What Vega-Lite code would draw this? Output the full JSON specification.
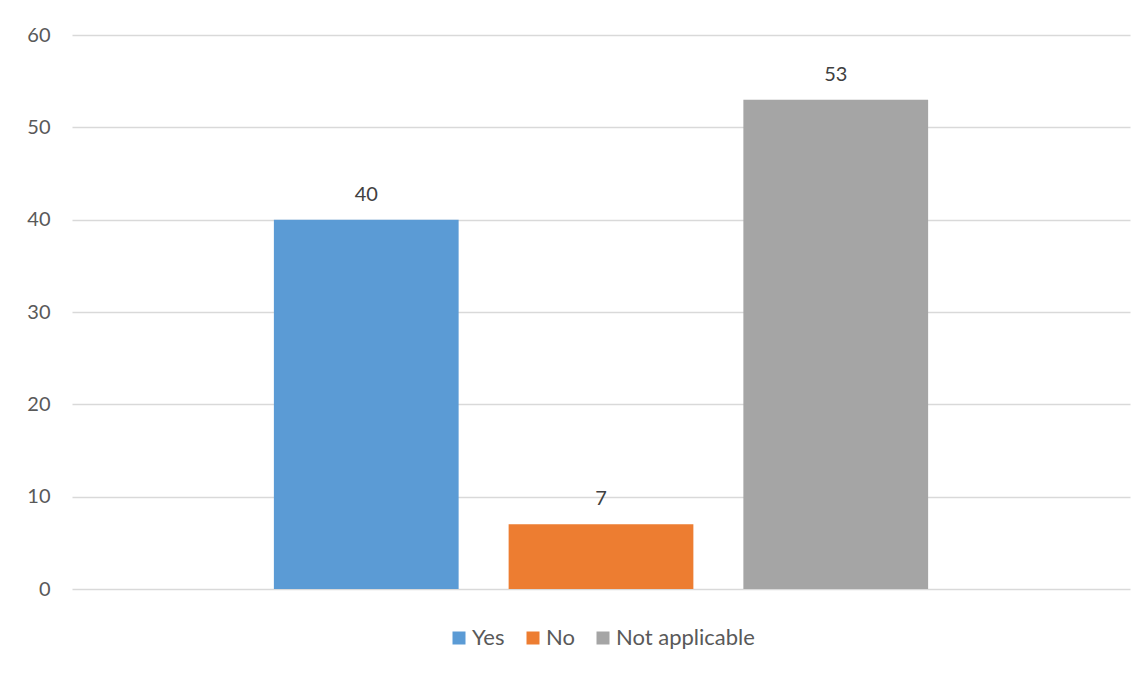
{
  "$schema": "https://vega.github.io/schema/vega-lite/v6.json",
  "autosize": {"type": "none"},
  "width": 1058,
  "height": 554,
  "padding": {"left": 72, "top": 35, "right": 17, "bottom": 84},
  "background": "white",
  "config": {
    "view": {"stroke": null},
    "font": "Lato",
    "legend": {"layout": {"bottom": {"anchor": "middle"}}}
  },
  "data": {
    "values": [
      {"answer": "Yes", "count": 40},
      {"answer": "No", "count": 7},
      {"answer": "Not applicable", "count": 53}
    ]
  },
  "encoding": {
    "x": {
      "field": "answer",
      "type": "nominal",
      "sort": ["Yes", "No", "Not applicable"],
      "scale": {"paddingInner": 0.213, "paddingOuter": 0.86},
      "axis": null
    },
    "y": {
      "field": "count",
      "type": "quantitative",
      "scale": {"domain": [0, 60], "nice": false},
      "axis": {
        "values": [0, 10, 20, 30, 40, 50, 60],
        "title": null,
        "domain": false,
        "ticks": false,
        "labelPadding": 22,
        "labelFontSize": 20,
        "labelColor": "#595959",
        "labelFont": "Lato",
        "gridColor": "#d9d9d9",
        "gridWidth": 1.3
      }
    }
  },
  "layer": [
    {
      "mark": {"type": "bar"},
      "encoding": {
        "color": {
          "field": "answer",
          "type": "nominal",
          "sort": ["Yes", "No", "Not applicable"],
          "scale": {
            "domain": ["Yes", "No", "Not applicable"],
            "range": ["#5B9BD5", "#ED7D31", "#A5A5A5"]
          },
          "legend": {
            "orient": "bottom",
            "direction": "horizontal",
            "title": null,
            "symbolType": "square",
            "symbolSize": 169,
            "symbolStrokeWidth": 0,
            "labelFontSize": 22,
            "labelColor": "#595959",
            "labelFont": "Lato",
            "labelOffset": 2,
            "columnPadding": 17,
            "offset": 38
          }
        }
      }
    },
    {
      "mark": {"type": "text", "dy": -25, "fontSize": 20, "color": "#404040", "font": "Lato"},
      "encoding": {
        "text": {"field": "count", "type": "quantitative"}
      }
    }
  ]
}
